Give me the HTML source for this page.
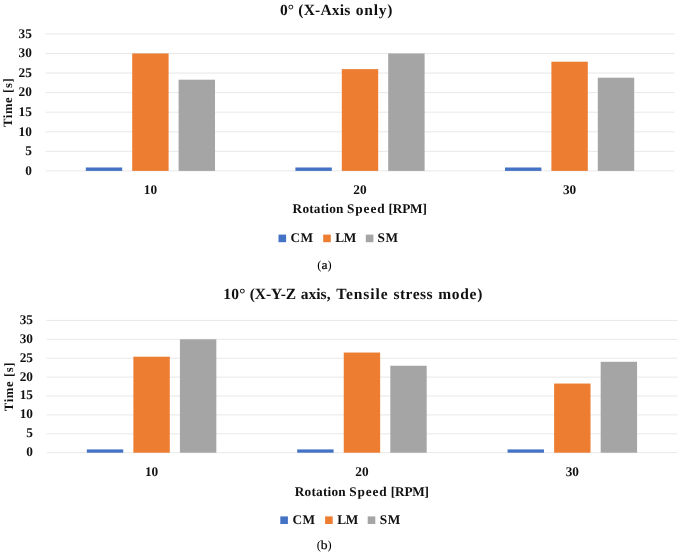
<!DOCTYPE html>
<html><head><meta charset="utf-8"><title>chart</title>
<style>
html,body{margin:0;padding:0;background:#fff;}
body{width:682px;height:556px;overflow:hidden;}
svg{display:block;will-change:transform;}
text{font-family:"Liberation Serif", serif;fill:#111;text-rendering:geometricPrecision;}
.t{font-weight:bold;font-size:13.3px;}
.yl{font-size:12.7px;letter-spacing:0.6px;}
.xl{letter-spacing:0.33px;}
.ti{font-size:15.5px;}
.lg{letter-spacing:0.3px;}
.cp{font-size:12.4px;fill:#000;}
.cl{stroke:#000;stroke-width:0.22px;}
</style></head><body>
<svg width="682" height="556" viewBox="0 0 682 556">
<rect x="45.60" y="33.40" width="628.80" height="1" fill="#E8E8E8"/>
<rect x="45.60" y="52.97" width="628.80" height="1" fill="#E8E8E8"/>
<rect x="45.60" y="72.54" width="628.80" height="1" fill="#E8E8E8"/>
<rect x="45.60" y="92.11" width="628.80" height="1" fill="#E8E8E8"/>
<rect x="45.60" y="111.69" width="628.80" height="1" fill="#E8E8E8"/>
<rect x="45.60" y="131.26" width="628.80" height="1" fill="#E8E8E8"/>
<rect x="45.60" y="150.83" width="628.80" height="1" fill="#E8E8E8"/>
<rect x="45.60" y="170.40" width="628.80" height="1" fill="#E8E8E8"/>
<text x="31.90" y="37.70" class="t" text-anchor="end" >35</text>
<text x="31.90" y="57.27" class="t" text-anchor="end" >30</text>
<text x="31.90" y="76.84" class="t" text-anchor="end" >25</text>
<text x="31.90" y="96.41" class="t" text-anchor="end" >20</text>
<text x="31.90" y="115.99" class="t" text-anchor="end" >15</text>
<text x="31.90" y="135.56" class="t" text-anchor="end" >10</text>
<text x="31.90" y="155.13" class="t" text-anchor="end" >5</text>
<text x="31.90" y="174.70" class="t" text-anchor="end" >0</text>
<text x="12.30" y="102.40" class="t yl" text-anchor="middle" transform="rotate(-90 12.30 102.40)">Time [s]</text>
<rect x="85.80" y="167.49" width="36.40" height="3.41" fill="#4472C4"/>
<rect x="132.20" y="53.47" width="36.40" height="117.43" fill="#ED7D31"/>
<rect x="178.60" y="79.70" width="36.40" height="91.20" fill="#A5A5A5"/>
<text x="150.40" y="194.40" class="t" text-anchor="middle" >10</text>
<rect x="295.40" y="167.49" width="36.40" height="3.41" fill="#4472C4"/>
<rect x="341.80" y="69.13" width="36.40" height="101.77" fill="#ED7D31"/>
<rect x="388.20" y="53.47" width="36.40" height="117.43" fill="#A5A5A5"/>
<text x="360.00" y="194.40" class="t" text-anchor="middle" >20</text>
<rect x="505.00" y="167.49" width="36.40" height="3.41" fill="#4472C4"/>
<rect x="551.40" y="61.69" width="36.40" height="109.21" fill="#ED7D31"/>
<rect x="597.80" y="77.74" width="36.40" height="93.16" fill="#A5A5A5"/>
<text x="569.60" y="194.40" class="t" text-anchor="middle" >30</text>
<text x="292.60" y="213.20" class="t" text-anchor="start" style="letter-spacing:0.2px">Rotation</text>
<text x="347.10" y="213.20" class="t" text-anchor="start" style="letter-spacing:0.87px">Speed</text>
<text x="388.60" y="213.20" class="t" text-anchor="start" style="letter-spacing:-0.22px">[RPM]</text>
<text x="279.90" y="15.20" class="t ti" text-anchor="start" style="letter-spacing:0.1px">0&#176;</text>
<text x="298.30" y="15.20" class="t ti" text-anchor="start" style="letter-spacing:0.2px">(X-Axis</text>
<text x="355.80" y="15.20" class="t ti" text-anchor="start" style="letter-spacing:0.75px">only)</text>
<rect x="278.50" y="234.60" width="7.60" height="7.60" fill="#4472C4"/>
<text x="290.50" y="242.10" class="t" text-anchor="start" style="letter-spacing:0.35px">CM</text>
<rect x="323.20" y="234.60" width="7.60" height="7.60" fill="#ED7D31"/>
<text x="335.30" y="242.10" class="t" text-anchor="start" style="letter-spacing:-0.35px">LM</text>
<rect x="365.80" y="234.60" width="7.60" height="7.60" fill="#A5A5A5"/>
<text x="377.60" y="242.10" class="t" text-anchor="start" style="letter-spacing:0.55px">SM</text>
<text x="317.34" y="268.60" class="cp" text-anchor="start" >(</text>
<g transform="translate(321.47 268.60) scale(1.1 1)"><text x="0" y="0" class="cp cl">a</text></g>
<text x="327.53" y="268.60" class="cp" text-anchor="start" >)</text>
<rect x="46.40" y="319.90" width="631.10" height="1" fill="#E8E8E8"/>
<rect x="46.40" y="338.80" width="631.10" height="1" fill="#E8E8E8"/>
<rect x="46.40" y="357.70" width="631.10" height="1" fill="#E8E8E8"/>
<rect x="46.40" y="376.60" width="631.10" height="1" fill="#E8E8E8"/>
<rect x="46.40" y="395.50" width="631.10" height="1" fill="#E8E8E8"/>
<rect x="46.40" y="414.40" width="631.10" height="1" fill="#E8E8E8"/>
<rect x="46.40" y="433.30" width="631.10" height="1" fill="#E8E8E8"/>
<rect x="46.40" y="452.20" width="631.10" height="1" fill="#E8E8E8"/>
<text x="33.00" y="323.80" class="t" text-anchor="end" >35</text>
<text x="33.00" y="342.70" class="t" text-anchor="end" >30</text>
<text x="33.00" y="361.60" class="t" text-anchor="end" >25</text>
<text x="33.00" y="380.50" class="t" text-anchor="end" >20</text>
<text x="33.00" y="399.40" class="t" text-anchor="end" >15</text>
<text x="33.00" y="418.30" class="t" text-anchor="end" >10</text>
<text x="33.00" y="437.20" class="t" text-anchor="end" >5</text>
<text x="33.00" y="456.10" class="t" text-anchor="end" >0</text>
<text x="13.00" y="386.55" class="t yl" text-anchor="middle" transform="rotate(-90 13.00 386.55)">Time [s]</text>
<rect x="86.83" y="449.41" width="36.40" height="3.29" fill="#4472C4"/>
<rect x="133.38" y="356.69" width="36.40" height="96.01" fill="#ED7D31"/>
<rect x="179.93" y="339.30" width="36.40" height="113.40" fill="#A5A5A5"/>
<text x="151.58" y="475.90" class="t" text-anchor="middle" >10</text>
<rect x="297.20" y="449.41" width="36.40" height="3.29" fill="#4472C4"/>
<rect x="343.75" y="352.53" width="36.40" height="100.17" fill="#ED7D31"/>
<rect x="390.30" y="365.76" width="36.40" height="86.94" fill="#A5A5A5"/>
<text x="361.95" y="475.90" class="t" text-anchor="middle" >20</text>
<rect x="507.57" y="449.41" width="36.40" height="3.29" fill="#4472C4"/>
<rect x="554.12" y="383.53" width="36.40" height="69.17" fill="#ED7D31"/>
<rect x="600.67" y="361.79" width="36.40" height="90.91" fill="#A5A5A5"/>
<text x="572.32" y="475.90" class="t" text-anchor="middle" >30</text>
<text x="294.80" y="495.70" class="t" text-anchor="start" style="letter-spacing:0.2px">Rotation</text>
<text x="349.30" y="495.70" class="t" text-anchor="start" style="letter-spacing:0.87px">Speed</text>
<text x="390.80" y="495.70" class="t" text-anchor="start" style="letter-spacing:-0.22px">[RPM]</text>
<text x="223.35" y="299.10" class="t ti" text-anchor="start" style="letter-spacing:0.2px">10&#176;</text>
<text x="249.80" y="299.10" class="t ti" text-anchor="start" style="letter-spacing:-0.1px">(X-Y-Z</text>
<text x="300.80" y="299.10" class="t ti" text-anchor="start" style="letter-spacing:0.0px">axis,</text>
<text x="336.25" y="299.10" class="t ti" text-anchor="start" style="letter-spacing:0.9px">Tensile</text>
<text x="393.50" y="299.10" class="t ti" text-anchor="start" style="letter-spacing:0.45px">stress</text>
<text x="438.15" y="299.10" class="t ti" text-anchor="start" style="letter-spacing:0.72px">mode)</text>
<rect x="280.30" y="516.40" width="7.60" height="7.60" fill="#4472C4"/>
<text x="292.50" y="524.00" class="t" text-anchor="start" style="letter-spacing:0.35px">CM</text>
<rect x="325.10" y="516.40" width="7.60" height="7.60" fill="#ED7D31"/>
<text x="337.30" y="524.00" class="t" text-anchor="start" style="letter-spacing:-0.35px">LM</text>
<rect x="367.70" y="516.40" width="7.60" height="7.60" fill="#A5A5A5"/>
<text x="379.80" y="524.00" class="t" text-anchor="start" style="letter-spacing:0.55px">SM</text>
<text x="316.66" y="548.90" class="cp" text-anchor="start" >(</text>
<g transform="translate(320.79 548.90) scale(1.1 1)"><text x="0" y="0" class="cp cl">b</text></g>
<text x="327.61" y="548.90" class="cp" text-anchor="start" >)</text>
</svg>
</body></html>
